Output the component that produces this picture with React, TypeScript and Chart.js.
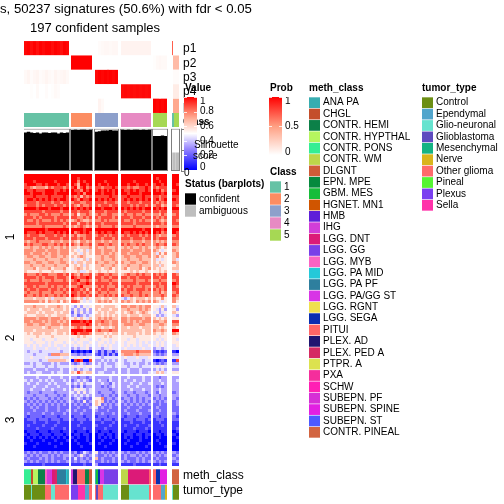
import React, { useEffect, useRef } from "react";
import { Chart, registerables } from "chart.js";

Chart.register(...registerables);

const FONT = '"Liberation Sans", Arial, sans-serif';

// ---------- data ----------
const titleLine = "s, 50237 signatures (50.6%) with fdr < 0.05";
const subtitleLine = "197 confident samples";
const probRowLabels = ["p1", "p2", "p3", "p4", "p5"];
const classLabels = ["1", "2", "3", "4", "5"];
const classColors = ["#66C2A5", "#FC8D62", "#8DA0CB", "#E78AC3", "#A6D854"];
const clusterLabels = ["1", "2", "3"];

const methClasses = ["ANA PA","CHGL","CONTR. HEMI","CONTR. HYPTHAL","CONTR. PONS","CONTR. WM","DLGNT","EPN. MPE","GBM. MES","HGNET. MN1","HMB","IHG","LGG. DNT","LGG. GG","LGG. MYB","LGG. PA MID","LGG. PA PF","LGG. PA/GG ST","LGG. RGNT","LGG. SEGA","PITUI","PLEX. AD","PLEX. PED A","PTPR. A","PXA","SCHW","SUBEPN. PF","SUBEPN. SPINE","SUBEPN. ST","CONTR. PINEAL"];
const methColors = ["#38adb0","#c44e2b","#0c8048","#b5f55f","#35ee94","#bdd64a","#cf5c38","#058a3e","#17bd3a","#d05500","#5f1fd8","#d23ed8","#dc1a78","#7a3fe8","#fb63c3","#25c9d9","#2e7f9e","#d835e6","#efe04f","#0a2eb0","#ff6666","#201570","#d52a63","#dce24f","#f52e9c","#ff1fb4","#d62fd6","#e21fe2","#4d59ff","#d26440"];
const tumorTypes = ["Control","Ependymal","Glio-neuronal","Glioblastoma","Mesenchymal","Nerve","Other glioma","Pineal","Plexus","Sella"];
const tumorColors = ["#6b8e14","#52a5cc","#66e3cf","#5e4bbf","#14b383","#d9b51c","#ff6b6b","#55f533","#7a3ff0","#ff33aa"];

const probP1 = [[.98,1,.96,1,.95,1,.97,1,1,.96,1,.98,.95,1,.98],[0],[0,.02,.03,.04,.04,.03,.04,.04],[.06],[0],[.7,0,0,0,0,0,0]];
const probP2 = [[0],[1],[0],[0],[.01,.03,.04,.03,.03],[0,.35,.35,.35,.35,.35,.35]];
const probP3 = [[.03,.05,.02,.04,.05,.02,.03,.05,.03,.02,.05,.03,.04,.05,.03],[0],[.97,1,.98,1,.98,1,.98,1],[0],[0],[0,.02,.02,.02,.02,.02,.02]];
const probP4 = [[0,0,.01,0,.03,0,0,.02,0,.01,.03,.02,0,0,0],[0],[0],[.96,.97,.96,.97,.96,.97,.96,.97,.96,.97],[0],[0,.1,.1,.1,.1,.1,.1]];
const probP5 = [[0],[0],[0,.06,.03,0,0,0,0,0],[0],[1,.98,1,.98,1],[0,.45,.45,.45,.45,.45,.45]];
const probRows = [probP1, probP2, probP3, probP4, probP5];

const classByGroup = [[1],[2],[3],[4],[5],[1,5,5]];

const silhouetteByGroup = [
  [.9,.92,.9,.89,.9,.88,.9,.9,.89,.9,.9,.88,.9,.89,.9],
  [.96,.97,.96,.97,.97,.96,.97],
  [.92,.93,.95,.95,.95,.96,.95,.95],
  [.97,.96,.97,.96,.97,.97,.96,.97,.96,.97],
  [.82,.82,.82,.83,.82],
  [.43,.43],
];
const silhouetteTicks = [0, 0.5, 1];

const valueTicks = [0, 0.2, 0.4, 0.6, 0.8, 1];
const probTicks = [0, 0.5, 1];
const statusLabels = ["confident", "ambiguous"];
const statusColors = ["#000000", "#bebebe"];

// [category, relative width] per group, left to right
const methSegments: [string, number][][] = [
  [["CONTR. PONS",22],["CHGL",4],["CONTR. HYPTHAL",16],["CONTR. HEMI",21],["LGG. MYB",5],["IHG",12],["LGG. PA/GG ST",5],["LGG. DNT",8],["PLEX. PED A",5],["LGG. PA PF",27],["LGG. PA MID",5],["ANA PA",5]],
  [["IHG",6],["PLEX. AD",13],["PITUI",23],["CONTR. HEMI",13],["DLGNT",8]],
  [["ANA PA",3],["GBM. MES",6],["LGG. SEGA",6],["LGG. PA/GG ST",12],["LGG. GG",42]],
  [["CONTR. WM",22],["LGG. DNT",63],["PITUI",5]],
  [["PITUI",9],["LGG. SEGA",12],["SUBEPN. SPINE",21]],
  [["CONTR. PINEAL",21]],
];
const tumorSegments: [string, number][][] = [
  [["Control",20],["Glio-neuronal",4],["Control",39],["Other glioma",18],["Glio-neuronal",12],["Other glioma",42]],
  [["Plexus",21],["Sella",21],["Ependymal",13],["Other glioma",8]],
  [["Other glioma",3],["Glioblastoma",7],["Other glioma",15],["Glio-neuronal",44]],
  [["Control",24],["Glio-neuronal",61],["Other glioma",5]],
  [["Other glioma",25],["Ependymal",11],["Nerve",6]],
  [["Glio-neuronal",3],["Control",18]],
];

// digit per cell, 0 = blue, 9 = red; groups are separated by a space
const cluster1Rows = [
"999999999999999 9999999 99999999 9999999999 99999 99",
"999999999999999 9989999 99999999 9999999999 98999 99",
"999899999989999 9979899 99989999 9999899999 99899 99",
"899988989998998 9869989 98998999 9989989989 89989 98",
"887677768788878 8968978 88788898 8878778898 87888 99",
"988988899988989 9887989 89898989 9889898898 98978 89",
"998999899989999 9989799 99899989 9989998999 99989 99",
"888988889888898 8786878 88888988 8898888988 88788 88",
"899898989898998 9879889 98989898 8989898989 89789 98",
"888878888788788 7887788 88878887 8878887888 87878 88",
"788878788878878 8768778 87888788 8887878878 78867 87",
"999989998999899 9898989 99899989 9898989899 98989 99",
"888888788888788 8878887 88878888 8788888788 88788 88",
"787778878777877 7857787 78778877 7877877877 77687 78",
"888787888878888 8877878 87888878 8887888788 87878 88",
"877878777878787 6787667 77878777 8778787877 78767 87",
"888878888888878 8868878 88788888 8888788888 88878 88",
"777777877777787 7678767 78777787 7777877777 76777 77",
"999999989999999 9999899 99999999 9999999899 99989 99",
"988898988898989 9789898 89898898 9889898989 98978 98",
"878887788878878 7867788 78878788 7878887878 87677 78",
"888788878888788 8878788 88788878 8887888788 87888 88",
"767787777677677 7657767 77677677 7776777677 76767 77",
"878777887787878 8768778 78877877 8787787877 78778 87",
"667667676766767 6656667 76676667 6767667676 67656 66",
"777677767776777 6545646 77677767 7776777677 76545 76",
"776777676776777 5654656 77677676 7767776777 64757 67",
"677667766776676 6567655 66766776 6776677667 67565 67",
"666766676666766 4545646 66766676 6676667666 64545 64",
"776677667766776 6466566 76677667 7667766776 65655 76",
"667666766676667 5656465 66766676 6676667666 66465 56",
"666756667566675 5676565 66566756 6756667567 65655 66",
"655556555655565 5564456 56556556 5556565565 55656 54",
"877787887778878 8768778 78877877 6787787877 87878 87",
"888878788878887 9878898 88788788 8878878888 88788 88",
"787778777877787 7897787 78777877 7777877787 77877 78",
"888888878888888 8878898 88888788 8888878888 88788 98",
"788787778787787 7789777 78787778 7878777877 78778 87",
"878878887887878 9887868 87887887 8788788878 87878 88",
"787778777877787 8878787 78778777 7787778777 77867 78",
"877878787787878 9878878 87787878 8778778787 77787 87",
"666566656466665 7656465 66566566 4346566656 65575 76",
"777776757667576 8875454 67676756 7676576767 76545 75",
];
const cluster2Rows = [
"666766656667656 4353545 66566665 7767767677 55464 64",
"656665666566656 3534353 65666566 6676667676 54353 53",
"566656566656566 2535343 56565665 6567656765 45345 65",
"655566656556665 3423434 66565656 6656665666 53434 43",
"777767776777676 5656546 67676766 7767777677 65656 55",
"776777676776767 9998989 77877677 7767676777 77667 88",
"677667766777677 8888898 76777677 6777667766 66776 77",
"666666567666566 6787677 66566567 6656665666 66565 65",
"666566666656666 9999899 78777877 6666666566 76676 99",
"565666566556656 8978887 66656566 6566656566 65565 76",
"555565555655555 5565655 55565655 5555655555 55455 55",
"554555455545555 4545554 54555455 5545545555 54545 54",
"555455545455545 5455445 45545454 5455545454 45454 55",
"454545445454454 4545454 45454544 5454545445 45454 45",
"444544454445444 3434453 44344544 4544444544 34434 44",
"434443444444344 0101010 31313313 7777787777 21212 10",
"444344443777666 3323233 21313131 6777676666 32323 33",
"445444454444544 5454545 44344444 4544454445 44445 44",
"444443446666665 0898008 33434343 4344444344 10121 18",
"334344333434333 3234323 34343334 4334343343 32323 33",
"444344434434444 5455455 44344434 4434443444 45454 44",
"333433343333433 4343443 33343333 3343334333 34343 33",
"343344333434433 6586566 34433343 3343334334 46564 55",
];
const cluster3Rows = [
"333343334333433 3323323 33333433 3343333433 33233 33",
"434334343433343 2343432 34332433 3433433433 33433 34",
"343343334343334 3435344 33433243 3334334334 33343 33",
"333433343334333 2324233 33232343 3343343333 32323 33",
"334333433433343 3545434 33333233 3334333433 33433 33",
"323332333323333 4353534 32333323 3233233323 32433 23",
"333233323332323 3434343 33233232 3323323332 33233 33",
"232323332323233 2343232 55723323 2332323233 23232 32",
"323232323232323 3232523 65623232 3232323232 32323 23",
"232323232323232 2323232 65232323 2323232323 22322 23",
"223232232223222 2232223 42322322 2232223222 23222 22",
"222322232223223 2322322 32223222 2322232223 22322 22",
"232222322322232 2223222 22322232 2232223222 23222 32",
"212222122221222 1222122 12221222 2122212221 22122 21",
"122212221222122 2122212 22122212 1222122212 12221 22",
"111211121112111 1112111 11211121 1112111211 11211 11",
"121111211121111 1121111 21111211 1211121112 11121 11",
"111121111211121 1111211 11121111 1111211121 11111 12",
"011101110111011 1011101 10111011 1011101110 11011 01",
"101110111011101 0110110 01101101 0111011011 01101 10",
"010101010101010 1010010 01010101 0101001010 00100 01",
"001000100010001 0100010 00100010 0010001000 01000 00",
"100010001000100 0010001 01000100 0100010001 00100 10",
"000100000010000 0001000 00010000 0001000010 00001 00",
"000000000000000 0000000 00000000 0000000000 00000 00",
"232323223232322 2312432 52323232 3232232323 23232 32",
"323232332323233 3235323 32232323 2323323232 32323 23",
"232223232322232 2423232 62322232 2322232322 23222 32",
"323232232323223 2323323 22323232 3232232323 32323 23",
"111111211111111 1111211 31111111 1111211111 11211 11",
];

// ---------- layout (page pixels) ----------
const groupLeft = [24, 71, 95, 121, 153, 172];
const groupWidth = [45, 21, 23, 30, 14, 7];
const annoLeft = 24;
const annoWidth = 156;
const clusterTop = [0, 131, 202];
const rowH = 3;
const METH_STEP = 11.34;

// ---------- colours ----------
function mix(a: number[], b: number[], t: number) {
  return a.map((v, i) => Math.round(v + (b[i] - v) * t));
}
function probColor(v: number) {
  const c = v < 0.5 ? mix([255, 255, 255], [255, 158, 129], v * 2) : mix([255, 158, 129], [255, 0, 0], (v - 0.5) * 2);
  return `rgb(${c[0]},${c[1]},${c[2]})`;
}
function valueColor(v: number) {
  if (v >= 0.5) return probColor((v - 0.5) * 2);
  const t = (0.5 - v) * 2;
  const c = t < 0.4 ? mix([255, 255, 255], [156, 140, 255], t / 0.4) : mix([156, 140, 255], [0, 0, 255], (t - 0.4) / 0.6);
  return `rgb(${c[0]},${c[1]},${c[2]})`;
}

// ---------- cell builders ----------
function colEdges(g: number, i: number, n: number) {
  const x0 = groupLeft[g] - annoLeft;
  return [Math.round(x0 + (i * groupWidth[g]) / n), Math.round(x0 + ((i + 1) * groupWidth[g]) / n)];
}
function hiddenScale(min: number, max: number, reverse = false) {
  return { type: "linear", min, max, reverse, display: false, offset: false, grid: { display: false } };
}
function barDataset(cells: { x: any; y: any }[], colors: string[], barThickness: number) {
  return { data: cells, backgroundColor: colors, borderWidth: 0, inflateAmount: 0, barThickness, grouped: false };
}
function baseOptions(extra: any = {}) {
  return {
    responsive: false,
    animation: false,
    devicePixelRatio: 1,
    events: [],
    plugins: { legend: { display: false }, title: { display: false }, tooltip: { enabled: false } },
    layout: { padding: 0 },
    ...extra,
  };
}

function heatmapCells() {
  const cells: any[] = [];
  const colors: string[] = [];
  [cluster1Rows, cluster2Rows, cluster3Rows].forEach((rows, k) => {
    rows.forEach((row, r) => {
      row.split(" ").forEach((digits, g) => {
        for (let i = 0; i < digits.length; i++) {
          cells.push({ x: colEdges(g, i, digits.length), y: clusterTop[k] + r * rowH + rowH / 2 });
          colors.push(valueColor(Number(digits[i]) / 9));
        }
      });
    });
  });
  return { cells, colors };
}
function probCells() {
  const cells: any[] = [];
  const colors: string[] = [];
  probRows.forEach((groups, r) => {
    groups.forEach((vals, g) => {
      vals.forEach((v, i) => {
        cells.push({ x: colEdges(g, i, vals.length), y: r + 0.5 });
        colors.push(probColor(v));
      });
    });
  });
  return { cells, colors };
}
function segmentCells(segments: [string, number][][], names: string[], palette: string[], y: number) {
  const cells: any[] = [];
  const colors: string[] = [];
  segments.forEach((segs, g) => {
    const total = segs.reduce((s, d) => s + d[1], 0);
    let acc = 0;
    segs.forEach(([name, w]) => {
      const x0 = groupLeft[g] - annoLeft;
      cells.push({ x: [Math.round(x0 + (acc / total) * groupWidth[g]), Math.round(x0 + ((acc + w) / total) * groupWidth[g])], y });
      colors.push(palette[names.indexOf(name)]);
      acc += w;
    });
  });
  return { cells, colors };
}
function classCells() {
  const cells: any[] = [];
  const colors: string[] = [];
  classByGroup.forEach((list, g) => {
    list.forEach((c, i) => {
      cells.push({ x: colEdges(g, i, list.length), y: 0.5 });
      colors.push(classColors[c - 1]);
    });
  });
  return { cells, colors };
}

// ---------- text helpers ----------
type T = { t: string; x: number; y: number; bold?: boolean; size?: number; rot?: number };
function drawTexts(ctx: CanvasRenderingContext2D, items: T[]) {
  ctx.save();
  ctx.fillStyle = "#000";
  ctx.textBaseline = "middle";
  ctx.textAlign = "left";
  items.forEach((it) => {
    ctx.font = `${it.bold ? "bold " : ""}${it.size ?? 10}px ${FONT}`;
    if (it.rot) {
      ctx.save();
      ctx.translate(it.x, it.y);
      ctx.rotate(it.rot);
      ctx.textAlign = "center";
      ctx.fillText(it.t, 0, 0);
      ctx.restore();
    } else ctx.fillText(it.t, it.x, it.y);
  });
  ctx.restore();
}
function textChart(items: T[]) {
  return {
    box: { left: 0, top: 0, width: 504, height: 504 },
    config: {
      type: "bar",
      data: { datasets: [] },
      options: baseOptions({ scales: { x: hiddenScale(0, 1), y: hiddenScale(0, 1) } }),
      plugins: [{ id: "pageText", afterDraw: (c: any) => drawTexts(c.ctx, items) }],
    },
  };
}

function rampChart(left: number, top: number, h: number, ticks: number[], color: (v: number) => string, stops: number[]) {
  return {
    box: { left, top, width: 45, height: h },
    config: {
      type: "bar",
      data: {
        datasets: [
          {
            data: [{ x: 0.5, y: [0, 1] }],
            barThickness: 13,
            inflateAmount: 0,
            borderWidth: 0,
            backgroundColor: (ctx: any) => {
              const a = ctx.chart.chartArea;
              if (!a) return "#fff";
              const g = ctx.chart.ctx.createLinearGradient(0, a.bottom, 0, a.top);
              stops.forEach((s) => g.addColorStop(s, color(s)));
              return g;
            },
          },
        ],
      },
      options: baseOptions({
        layout: { padding: { right: 32 } },
        scales: { x: hiddenScale(0, 1), y: hiddenScale(0, 1) },
      }),
      plugins: [
        {
          id: "rampTicks",
          afterDraw: (c: any) => {
            const s = c.scales.y;
            const a = c.chartArea;
            const ctx = c.ctx;
            ctx.save();
            ctx.strokeStyle = "rgba(255,255,255,0.8)";
            ticks.forEach((v) => {
              const p = Math.round(s.getPixelForValue(v)) + 0.5;
              ctx.beginPath();
              ctx.moveTo(a.left, p); ctx.lineTo(a.left + 3, p);
              ctx.moveTo(a.right - 3, p); ctx.lineTo(a.right, p);
              ctx.stroke();
            });
            ctx.restore();
            drawTexts(ctx, ticks.map((v) => ({ t: String(v), x: a.right + 3, y: Math.min(Math.max(s.getPixelForValue(v), a.top + 4), a.bottom - 2.5) })));
          },
        },
      ],
    },
  };
}

function swatchLegend(left: number, top: number, labels: string[], colors: string[], step: number, width: number) {
  return {
    box: { left, top, width, height: labels.length * step },
    config: {
      type: "bar",
      data: {
        labels,
        datasets: [
          {
            data: labels.map((l) => ({ x: [0, 1], y: l })),
            backgroundColor: colors,
            borderWidth: 0,
            inflateAmount: 0,
            barThickness: step - 0.6,
          },
        ],
      },
      options: baseOptions({
        indexAxis: "y",
        layout: { padding: { right: width - 11 } },
        scales: { x: hiddenScale(0, 1), y: { type: "category", display: false, offset: true, grid: { display: false } } },
      }),
      plugins: [
        {
          id: "swatchText",
          afterDraw: (c: any) => {
            const s = c.scales.y;
            drawTexts(c.ctx, labels.map((l, i) => ({ t: l, x: c.chartArea.right + 3, y: s.getPixelForValue(i) })));
          },
        },
      ],
    },
  };
}

function buildPanels() {
  const heat = heatmapCells();
  const prob = probCells();
  const cls = classCells();
  const meth = segmentCells(methSegments, methClasses, methColors, 0.5);
  const tumor = segmentCells(tumorSegments, tumorTypes, tumorColors, 1.5);

  const silCells: any[] = [];
  const silColors: string[] = [];
  silhouetteByGroup.forEach((vals, g) => {
    vals.forEach((v, i) => {
      const [a, b] = colEdges(g, i, vals.length);
      silCells.push({ x: (a + b) / 2, y: [0, v] });
      silColors.push(g === 5 ? statusColors[1] : statusColors[0]);
    });
  });
  const boxCells = groupLeft.map((l, g) => ({ x: l - annoLeft + groupWidth[g] / 2, y: [0, 1] }));

  return [
    {
      box: { left: annoLeft, top: 41, width: annoWidth, height: 71.5 },
      config: {
        type: "bar",
        data: { datasets: [barDataset(prob.cells, prob.colors, 14.3)] },
        options: baseOptions({ indexAxis: "y", scales: { x: hiddenScale(0, annoWidth), y: hiddenScale(0, 5, true) } }),
      },
    },
    {
      box: { left: annoLeft, top: 113, width: annoWidth, height: 14 },
      config: {
        type: "bar",
        data: { datasets: [barDataset(cls.cells, cls.colors, 14)] },
        options: baseOptions({ indexAxis: "y", scales: { x: hiddenScale(0, annoWidth), y: hiddenScale(0, 1, true) } }),
      },
    },
    {
      box: { left: annoLeft - 2, top: 126, width: 177, height: 50 },
      config: {
        type: "bar",
        data: {
          datasets: [
            { data: silCells, backgroundColor: silColors, borderWidth: 0, inflateAmount: 0.2, barThickness: 3, grouped: false, order: 1 },
            ...groupLeft.map((_, g) => ({
              data: [boxCells[g]],
              backgroundColor: "rgba(0,0,0,0)",
              borderColor: "#7f7f7f",
              borderWidth: 1,
              borderSkipped: false,
              inflateAmount: 0,
              barThickness: groupWidth[g] + 2,
              grouped: false,
              order: 0,
            })),
          ],
        },
        options: baseOptions({
          layout: { padding: { left: 2, top: 2.5, bottom: 5, right: 19 } },
          scales: { x: hiddenScale(0, annoWidth), y: hiddenScale(0, 1) },
        }),
      },
    },
    {
      box: { left: annoLeft, top: 174, width: annoWidth, height: 292 },
      config: {
        type: "bar",
        data: { datasets: [barDataset(heat.cells, heat.colors, rowH)] },
        options: baseOptions({ indexAxis: "y", scales: { x: hiddenScale(0, annoWidth), y: hiddenScale(0, 292, true) } }),
      },
    },
    {
      box: { left: annoLeft, top: 468.5, width: annoWidth, height: 31 },
      config: {
        type: "bar",
        data: {
          datasets: [
            barDataset(meth.cells, meth.colors, 15),
            barDataset(tumor.cells, tumor.colors, 15),
          ],
        },
        options: baseOptions({ indexAxis: "y", scales: { x: hiddenScale(0, annoWidth), y: hiddenScale(0, 2, true) } }),
      },
    },
    textChart([
      { t: titleLine, x: 0, y: 9, size: 13.2 },
      { t: subtitleLine, x: 30, y: 28, size: 13 },
      ...probRowLabels.map((t, i) => ({ t, x: 183, y: 49 + i * 14.3, size: 12 })),
      { t: "Class", x: 183, y: 122, bold: true },
      { t: "meth_class", x: 183, y: 476, size: 12 },
      { t: "tumor_type", x: 183, y: 491, size: 12 },
      ...clusterLabels.map((t, i) => ({ t, x: 11, y: [237, 338, 420][i], size: 12, rot: -Math.PI / 2 })),
    ]),
    rampChart(184, 97, 73, valueTicks, valueColor, [0, 0.1, 0.2, 0.3, 0.4, 0.5, 0.6, 0.7, 0.8, 0.9, 1]),
    rampChart(269, 97, 58, probTicks, probColor, [0, 0.25, 0.5, 0.75, 1]),
    swatchLegend(270, 181, classLabels, classColors, 12, 40),
    swatchLegend(185, 193, statusLabels, statusColors, 12, 70),
    swatchLegend(309, 97, methClasses, methColors, METH_STEP, 110),
    swatchLegend(422, 97, tumorTypes, tumorColors, METH_STEP, 82),
    textChart([
      { t: "Value", x: 185, y: 88, bold: true },
      { t: "Prob", x: 270, y: 88, bold: true },
      { t: "Class", x: 270, y: 172, bold: true },
      { t: "Silhouette", x: 194, y: 145 },
      { t: "score", x: 193, y: 156 },
      { t: "0", x: 184, y: 173 },
      { t: "Status (barplots)", x: 185, y: 184, bold: true },
      { t: "meth_class", x: 309, y: 88, bold: true },
      { t: "tumor_type", x: 422, y: 88, bold: true },
    ]),
  ] as any[];
}

export default function App() {
  const hostRef = useRef<HTMLDivElement | null>(null);
  useEffect(() => {
    const host = hostRef.current!;
    const charts: Chart[] = [];
    const canvases: HTMLCanvasElement[] = [];
    buildPanels().forEach((p, idx) => {
      const cv = document.createElement("canvas");
      cv.width = Math.ceil(p.box.width);
      cv.height = Math.ceil(p.box.height);
      cv.style.position = "absolute";
      cv.style.left = p.box.left + "px";
      cv.style.top = p.box.top + "px";
      host.appendChild(cv);
      canvases.push(cv);
      const cfg = p.config;
      if (idx === 2) {
        cfg.plugins = [
          {
            id: "silAxis",
            afterDraw: (c: any) => {
              const s = c.scales.y;
              const x = c.chartArea.right + 1;
              const ctx = c.ctx;
              ctx.save();
              ctx.strokeStyle = "#7f7f7f";
              ctx.beginPath();
              ctx.moveTo(x + 0.5, s.getPixelForValue(1));
              ctx.lineTo(x + 0.5, s.getPixelForValue(0));
              silhouetteTicks.forEach((v) => {
                const py = Math.round(s.getPixelForValue(v)) + 0.5;
                ctx.moveTo(x, py);
                ctx.lineTo(x + 3, py);
              });
              ctx.stroke();
              ctx.restore();
            },
          },
        ];
      }
      charts.push(new Chart(cv, cfg));
    });
    return () => {
      charts.forEach((c) => c.destroy());
      canvases.forEach((c) => c.remove());
    };
  }, []);
  return <div ref={hostRef} style={{ position: "absolute", left: 0, top: 0, width: 504, height: 504, overflow: "hidden", background: "#fff" }} />;
}
